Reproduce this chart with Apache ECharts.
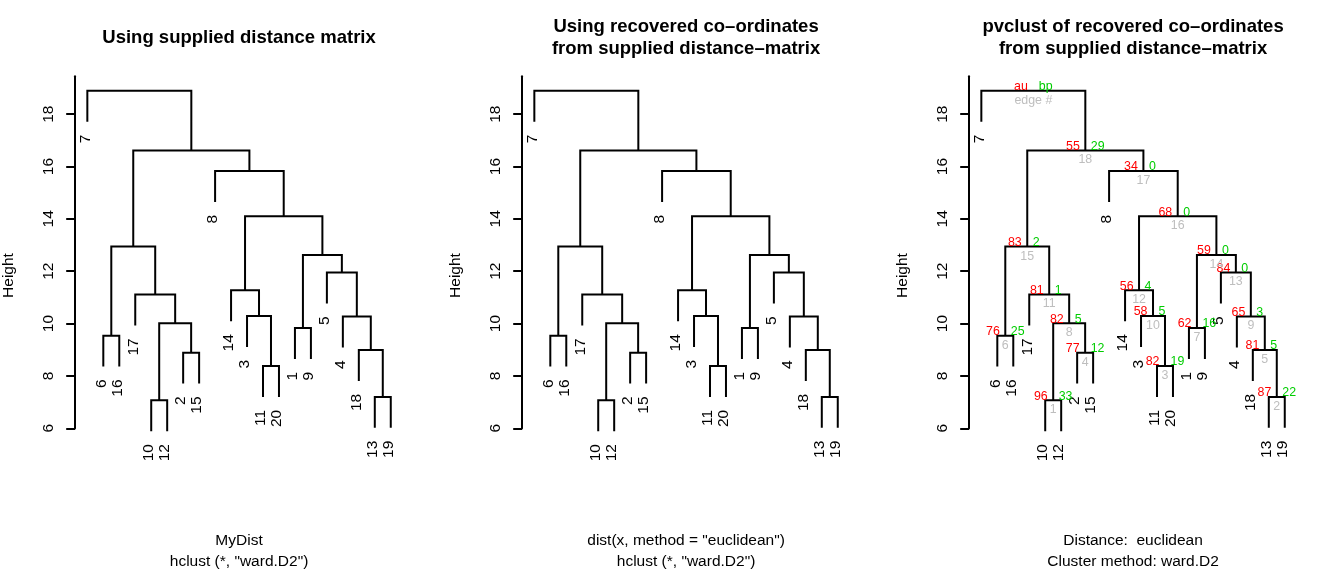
<!DOCTYPE html>
<html>

<head>
	<meta charset="utf-8">
	<title>Dendrograms: hclust and pvclust</title>
	<script src="https://cdn.jsdelivr.net/npm/echarts@6/dist/echarts.min.js"></script>
	<style>
		html, body { margin: 0; padding: 0; background: #fff; }
		#chart { width: 1323px; height: 571px; }
	</style>
</head>

<body>
	<div id="chart"></div>
	<script>
		// observations in dendrogram order, left to right
		var leafOrder = [7, 6, 16, 17, 10, 12, 2, 15, 8, 14, 3, 11, 20, 1, 9, 5, 4, 18, 13, 19];
		// merge matrix (R convention): negative = observation, positive = earlier merge step
		var mergeA = [-10, -13, -11, -2, -18, -6, -1, 1, -4, -3, -17, -14, -5, 7, 6, 12, -8, 15, -7];
		var mergeB = [-12, -19, -20, -15, 2, -16, -9, 4, 5, 3, 8, 10, 9, 13, 11, 14, 16, 17, 18];
		var mergeHeight = [7.07, 7.20, 8.38, 8.89, 8.99, 9.54, 9.83, 10.01, 10.27, 10.29,
			11.11, 11.27, 11.95, 12.62, 12.94, 14.10, 15.83, 16.61, 18.89];
		// pvclust values per edge; the root carries the key
		var pvAU = ['96', '87', '82', '77', '81', '76', '62', '82', '65', '58', '81', '56', '84', '59', '83', '68', '34', '55', 'au'];
		var pvBP = ['33', '22', '19', '12', '5', '25', '16', '5', '3', '5', '1', '4', '0', '0', '2', '0', '0', '29', 'bp'];
		var edgeNames = ['1', '2', '3', '4', '5', '6', '7', '8', '9', '10', '11', '12', '13', '14', '15', '16', '17', '18', 'edge #'];
		var yTicks = [6, 8, 10, 12, 14, 16, 18];
		var titles = [
			'Using supplied distance matrix',
			'Using recovered co\u2013ordinates\nfrom supplied distance\u2013matrix',
			'pvclust of recovered co\u2013ordinates\nfrom supplied distance\u2013matrix'
		];
		var subtitles = [
			'MyDist\nhclust (*, "ward.D2")',
			'dist(x, method = "euclidean")\nhclust (*, "ward.D2")',
			'Distance:  euclidean\nCluster method: ward.D2'
		];

		var FONT = '"Liberation Sans", Arial, Helvetica, sans-serif';
		var BASE = 15.5;
		var LW = 2;

		// layout of the tree, same as plot.hclust with hang = 0.1
		var hang = 0.1 * (Math.max.apply(null, mergeHeight) - Math.min.apply(null, mergeHeight));
		var leafPos = {}, leafBottom = {};
		leafOrder.forEach(function (o, i) { leafPos[o] = i + 1; });
		var nodeX = [], segs = [];
		for (var i = 0; i < mergeHeight.length; i++) {
			var h = mergeHeight[i];
			var kids = [mergeA[i], mergeB[i]].map(function (c) {
				if (c < 0) {
					leafBottom[-c] = h - hang;
					return [leafPos[-c], h - hang];
				}
				return [nodeX[c - 1], mergeHeight[c - 1]];
			});
			nodeX[i] = (kids[0][0] + kids[1][0]) / 2;
			segs.push([kids[0][0], kids[0][1], kids[1][0], kids[1][1], h]);
		}
		var leafData = leafOrder.map(function (o, i) { return [i + 1, leafBottom[o]]; });
		var nodeData = nodeX.map(function (x, i) { return [x, mergeHeight[i]]; });

		var chart = echarts.init(document.getElementById('chart'));
		var grids = [], xAxes = [], yAxes = [], series = [], graphics = [];
		var PANEL_STEP = 447, AXIS_X = 75.2, PLOT_W = 327.7;

		for (var p = 0; p < 3; p++) {
			var left = AXIS_X + PANEL_STEP * p;
			var cx = left + PLOT_W / 2;
			grids.push({ left: left, top: 76.2, width: PLOT_W, height: 352.1 });
			xAxes.push({ gridIndex: p, type: 'value', min: 0.24, max: 20.76, show: false });
			yAxes.push({
				gridIndex: p, type: 'value', min: 6, max: 19.45, interval: 2,
				axisLine: { show: true, lineStyle: { color: '#000', width: LW } },
				axisTick: { show: true, length: 9, customValues: yTicks, lineStyle: { color: '#000', width: LW } },
				axisLabel: {
					rotate: 90, margin: 18, customValues: yTicks, color: '#000',
					fontSize: BASE, fontFamily: FONT
				},
				splitLine: { show: false }
			});
			series.push({
				type: 'custom', xAxisIndex: p, yAxisIndex: p, data: segs, silent: true,
				renderItem: function (params, api) {
					var a = api.coord([api.value(0), api.value(1)]);
					var b = api.coord([api.value(0), api.value(4)]);
					var c = api.coord([api.value(2), api.value(4)]);
					var d = api.coord([api.value(2), api.value(3)]);
					return {
						type: 'polyline', shape: { points: [a, b, c, d] },
						style: { stroke: '#000', lineWidth: LW, fill: null }
					};
				}
			});
			series.push({
				type: 'custom', xAxisIndex: p, yAxisIndex: p, data: leafData, silent: true,
				renderItem: function (params, api) {
					var pt = api.coord([api.value(0), api.value(1)]);
					return {
						type: 'text', x: pt[0] - 2, y: pt[1] + 12.9, rotation: Math.PI / 2,
						style: {
							text: String(leafOrder[params.dataIndex]), align: 'right', verticalAlign: 'middle',
							fontSize: BASE, fontFamily: FONT, fill: '#000'
						}
					};
				}
			});
			graphics.push({
				type: 'text', x: cx, y: 37.5,
				style: {
					text: titles[p], align: 'center', verticalAlign: 'middle', lineHeight: 22,
					fontSize: 18.5, fontWeight: 'bold', fontFamily: FONT, fill: '#000'
				}
			});
			graphics.push({
				type: 'text', x: cx, y: 551.5,
				style: {
					text: subtitles[p], align: 'center', verticalAlign: 'middle', lineHeight: 21,
					fontSize: BASE, fontFamily: FONT, fill: '#000'
				}
			});
			graphics.push({
				type: 'text', x: left - 66, y: 275.5, rotation: Math.PI / 2,
				style: {
					text: 'Height', align: 'center', verticalAlign: 'middle',
					fontSize: BASE, fontFamily: FONT, fill: '#000'
				}
			});
		}

		// au / bp / edge numbers on the pvclust panel
		series.push({
			type: 'custom', xAxisIndex: 2, yAxisIndex: 2, data: nodeData, silent: true,
			renderItem: function (params, api) {
				var pt = api.coord([api.value(0), api.value(1)]);
				var k = params.dataIndex;
				var st = { fontSize: BASE * 0.8, fontFamily: FONT, verticalAlign: 'middle' };
				return {
					type: 'group',
					children: [
						{ type: 'text', x: pt[0] - 5.5, y: pt[1] - 4, style: Object.assign({ text: pvAU[k], align: 'right', fill: '#FF0000' }, st) },
						{ type: 'text', x: pt[0] + 5.5, y: pt[1] - 4, style: Object.assign({ text: pvBP[k], align: 'left', fill: '#00CD00' }, st) },
						{ type: 'text', x: pt[0], y: pt[1] + 9.5, style: Object.assign({ text: edgeNames[k], align: 'center', fill: '#BEBEBE' }, st) }
					]
				};
			}
		});

		chart.setOption({
			animation: false,
			grid: grids,
			xAxis: xAxes,
			yAxis: yAxes,
			series: series,
			graphic: graphics
		});
	</script>
</body>

</html>
